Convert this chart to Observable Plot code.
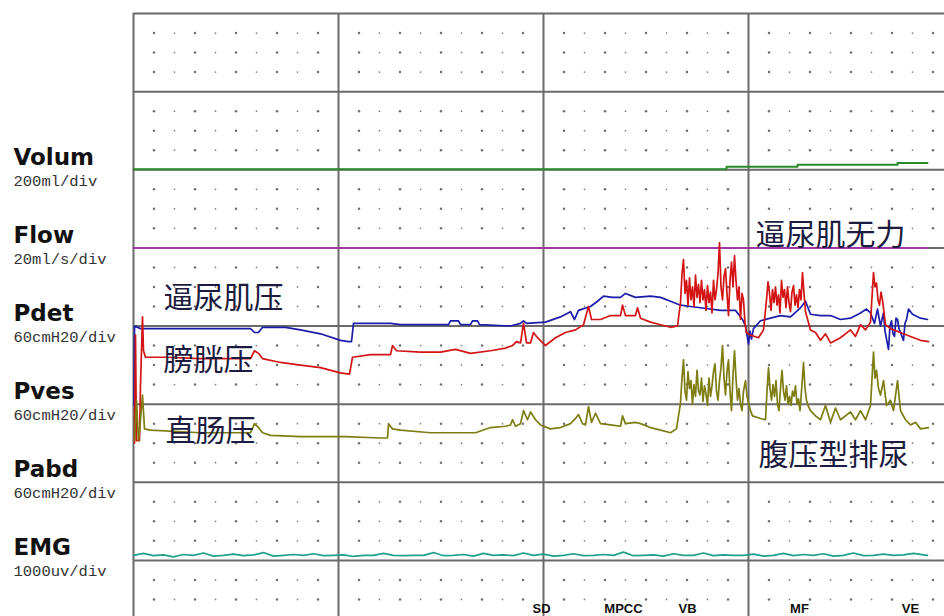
<!DOCTYPE html>
<html>
<head>
<meta charset="utf-8">
<script src="https://cdn.jsdelivr.net/npm/d3@7"></script>
<script src="https://cdn.jsdelivr.net/npm/@observablehq/plot@0.6"></script>
<style>
  html, body { margin: 0; padding: 0; background: #fff; }
  #chart { width: 944px; height: 616px; overflow: hidden; }
</style>
</head>
<body>
<div id="chart"></div>
<script>
// ---- channel definitions (labels & scale per division) ----
const channelNames  = ["Volum", "Flow", "Pdet", "Pves", "Pabd", "EMG"];
const channelScales = ["200ml/div", "20ml/s/div", "60cmH20/div", "60cmH20/div", "60cmH20/div", "1000uv/div"];
const unitsPerDiv   = [200, 20, 60, 60, 60, 1000];

// ---- traces: [time (s), value in channel units] ----
const volume = [[0,1],[118.6,8],[132.8,13],[152.8,17],[158.8,17]];
const flow = [[0,0],[158.8,0]];
const pdet = [
  [0.1,-61],[0.2,0],[1.4,-2],[23.4,-2],[24.2,-5],[25,-5],[25.8,-1],[30.4,-1],[33.4,-3],[37.4,-6],
  [41.4,-11],[43,-12],[43.6,-12],[44,2],[51.4,2],[53.4,1],[63,1],[63.4,4],[65,4],[65.4,1],
  [67.4,1],[67.8,4],[68.8,4],[69.2,1],[75.4,0],[77.4,2],[78,4],[78.6,2],[82.4,3],[85.4,7],
  [87.4,11],[88.2,5],[89,12],[91.4,15],[92.8,19],[94,23],[95.8,22],[97.4,22],[98.4,25],[100.4,22],
  [103.4,23],[105.4,22],[107.4,19],[109.4,16],[111.4,15],[113.4,14],[117.4,12],[120.4,12],[121.8,5],[122.4,0],
  [123,-14],[123.3,-4],[123.6,-10],[124,-2],[125.4,4],[127.4,6],[129.4,8],[131.4,7],[133.4,14],[134.4,19],[135.4,9],[137.4,8],
  [139.4,8],[141.4,5],[143.4,6],[145.4,10],[146.6,13],[147.4,10],[148.2,2],[148.8,13],[149.4,0],[150,10],
  [150.3,-4],[150.6,-10],[151,-18],[151.3,0],[151.6,4],[151.9,-6],[152.2,-8],[152.5,6],[152.8,5],[153.1,-2],[153.4,-5],[154,-11],[154.3,2],[154.6,5],[155,13],[155.8,9],
  [157.4,6],[158.8,5]
];
const pves = [
  [0.2,-30],[0.4,53],[0.6,-28],[1.2,-28],[1.4,15],[1.8,67],[2,41],[2.4,36],[6.4,36],[13.4,35],
  [23.4,35],[24.2,41],[25,39],[25.8,35],[29.4,32],[33.4,30],[37.4,28],[41.4,24],[43.2,23],[43.8,36],
  [47.4,38],[51.4,38],[51.8,45],[52.6,41],[57.4,40],[61.4,40],[64.4,42],[67.4,39],[71.4,41],[74.4,43],
  [75.8,45],[76.6,48],[77.4,47],[78,62],[78.6,47],[79.4,47],[80,55],[80.8,51],[82.4,45],[84.4,51],
  [86.4,55],[88.4,57],[90,61],[91,75],[91.6,65],[93.4,65],[95.4,68],[97.4,68],[97.8,76],[98.4,68],
  [100.4,68],[100.8,74],[101.4,66],[103.4,63],[105.4,61],[107.4,59],[108.8,60],
  [109.4,78],[109.7,100],[110,111],[110.3,85],[110.6,95],[110.9,76],[111.2,97],[111.5,80],[111.8,90],[112.1,75],
  [112.4,99],[112.7,82],[113,92],[113.3,78],[113.6,95],[113.9,80],[114.2,88],[114.5,72],[114.8,91],[115.1,78],
  [115.4,86],[115.7,70],[116,95],[116.3,80],[116.6,88],[116.9,100],[117.2,124],[117.5,90],[117.8,80],[118.1,98],
  [118.4,104],[118.7,85],[119,68],[119.3,95],[119.6,109],[119.9,90],[120.2,114],[120.5,95],[120.8,80],[121.1,90],
  [121.4,65],[121.7,85],[122,80],[122.3,62],[122.6,55],[123.4,53],[125,51],[126,57],
  [126.6,80],[126.9,94],[127.2,85],[127.5,72],[127.8,88],[128.1,78],[128.4,90],[128.7,76],[129,84],[129.3,70],
  [129.6,95],[129.9,82],[130.2,88],[130.5,74],[130.8,90],[131.1,78],[131.4,71],[131.7,86],[132,91],[132.3,76],
  [132.6,84],[132.9,74],[133.2,88],[133.5,80],[133.8,101],[134.1,85],[134.4,71],[135.4,57],[136.4,55],
  [137.4,49],[138.4,54],[139.4,47],[141.4,51],[143.4,57],[144.4,52],[145.4,61],[146.4,57],[147.4,63],[148,101],
  [148.3,90],[148.6,93],[148.9,80],[149.2,76],[149.5,86],[149.8,80],[150.4,61],[151.4,58],[153.4,55],[155.4,52],[157.4,49],[159,48]
];
const pabd = [
  [0.2,32],[0.6,63],[1,32],[1.4,48],[1.8,67],[2.2,41],[3.4,40],[13.4,38],[23.4,38],[24.2,45],
  [25,42],[25.8,38],[27.4,36],[33.4,35],[42.4,35],[49.4,34],[50.8,34],[51,45],[51.8,41],[53.4,40],
  [59.4,38],[66.4,38],[68.4,38],[71.4,42],[74.4,43],[75.4,44],[75.8,48],[76.4,43],[77.4,45],[78,55],
  [78.8,48],[79.4,54],[80.4,48],[81.4,44],[83.4,41],[85.4,42],[87.4,45],[88.4,49],[89,52],[89.8,45],
  [90.4,44],[91,58],[91.6,46],[92.4,53],[93.4,45],[95.4,44],[97.4,43],[97.8,51],[98.4,45],[100.4,46],
  [101.4,45],[103.4,42],[105.4,40],[107.4,38],[108.6,41],
  [109.4,61],[109.7,80],[110,94],[110.3,70],[110.6,63],[110.9,85],[111.2,72],[111.5,78],[111.8,60],[112.1,75],
  [112.4,66],[112.7,86],[113,70],[113.3,67],[113.6,80],[113.9,62],[114.2,74],[114.5,68],[114.8,59],[115.1,80],
  [115.4,66],[115.7,74],[116,85],[116.3,91],[116.6,70],[116.9,63],[117.2,78],[117.5,88],[117.8,105],[118.1,80],
  [118.4,67],[118.7,85],[119,94],[119.3,70],[119.6,55],[119.9,82],[120.2,101],[120.5,80],[120.8,63],[121.1,72],
  [121.4,60],[121.7,55],[122,70],[122.4,78],[122.7,66],[123,61],[123.4,55],[123.8,51],[125.4,49],
  [126.4,48],[126.7,70],[127,88],[127.3,72],[127.6,63],[127.9,75],[128.2,66],[128.5,78],[128.8,60],[129.1,55],
  [129.4,72],[129.7,86],[130,70],[130.3,63],[130.6,74],[130.9,60],[131.2,66],[131.5,59],[131.8,70],[132.1,66],
  [132.4,74],[132.7,60],[133,64],[133.3,55],[133.6,70],[134,92],[134.3,72],[134.6,63],[135,58],[135.4,55],
  [136.4,51],[137.4,48],[138.4,59],[139.4,46],[140.4,57],[141.4,48],[143.4,54],[144.4,48],
  [145.4,55],[146.4,48],[147.4,59],[148,100],[148.3,80],[148.6,86],[149,72],[149.4,67],[150,78],[150.6,59],[151.4,63],[152,55],
  [152.8,78],[153.4,55],[154.4,48],[155.4,44],[156.4,46],[157.4,41],[159,42]
];
const emg = [
  [0,64],[2,90],[4,60],[6,70],[8,45],[10,75],[12,64],[14,95],[16,55],[18,64],
  [20,80],[22,60],[24,70],[26,100],[28,55],[30,64],[32,75],[34,64],[36,85],[38,60],
  [40,64],[42,70],[44,50],[46,64],[48,64],[50,90],[52,64],[54,60],[56,64],[58,64],
  [60,100],[62,60],[64,64],[66,75],[68,55],[70,90],[72,64],[74,70],[76,60],[78,95],
  [80,64],[82,80],[84,55],[86,64],[88,85],[90,60],[92,64],[94,75],[96,64],[98,105],
  [100,60],[102,64],[104,70],[106,55],[108,85],[110,64],[112,64],[114,95],[116,60],[118,70],
  [120,64],[122,64],[124,80],[126,55],[128,64],[130,90],[132,60],[134,75],[136,64],[138,85],
  [140,55],[142,64],[144,95],[146,60],[148,64],[150,80],[152,64],[154,70],[156,90],[158.8,64]
];

// ---- event markers & annotations ----
const eventLabels = ["SD", "MPCC", "VB", "MF", "VE"];
const eventTimes  = [81.6, 98, 110.8, 133.2, 155.4];
const noteTexts = ["逼尿肌压", "膀胱压", "直肠压", "逼尿肌无力", "腹压型排尿"];
const noteTimes = [6, 6, 6.4, 124.4, 125];
const noteDivs  = [3.65, 4.44, 5.35, 2.84, 5.66];

// ---- layout (grid divisions) ----
const secPerDiv = 41;               // one major time division
const baseDiv = [2, 3, 4, 5, 6, 7]; // baseline grid line for each channel
const channelColors = ["#2a8a2a", "#a035a8", "#1c1caa", "#d41414", "#7d7d12", "#1f9f8c"];
const traces = [volume, flow, pdet, pves, pabd, emg];

const xMax = 162.2, yMax = 7.7184;
const dotsBig = [], dotsSmall = [];
for (let i = 1; i * secPerDiv / 10 <= xMax; i++) {
  if (i % 10 === 0) continue;
  for (let j = 1; j * 0.25 <= yMax; j++) {
    if (j % 4 === 0) continue;
    (i % 2 ? dotsBig : dotsSmall).push({t: i * secPerDiv / 10, d: j * 0.25});
  }
}

const lineMarks = traces.map((tr, k) => Plot.line(tr, {
  x: d => d[0],
  y: d => baseDiv[k] - d[1] / unitsPerDiv[k],
  stroke: channelColors[k],
  strokeWidth: k < 2 ? 2 : 1.7,
  strokeLinejoin: "round",
  curve: k === 0 ? "step-after" : "linear"
}));

const chans = channelNames.map((n, k) => ({name: n, scale: channelScales[k], d: baseDiv[k]}));
const events = eventLabels.map((l, k) => ({label: l, t: eventTimes[k]}));
const notes = noteTexts.map((s, k) => ({text: s, t: noteTimes[k], d: noteDivs[k]}));

const chart = Plot.plot({
  width: 944, height: 616,
  marginLeft: 133, marginRight: 0, marginTop: 13, marginBottom: 0,
  x: {domain: [0, xMax], range: [133, 944], axis: null},
  y: {domain: [0, yMax], range: [13, 616], axis: null},
  style: {background: "#fff", overflow: "hidden"},
  marks: [
    Plot.dot(dotsSmall, {x: "t", y: "d", r: 0.85, fill: "#808080", stroke: null}),
    Plot.dot(dotsBig, {x: "t", y: "d", r: 1.25, fill: "#707070", stroke: null}),
    Plot.ruleY(d3.range(0, 8), {y: d => d, stroke: "#6a6a6a", strokeWidth: 2}),
    Plot.ruleX(d3.range(0, 4), {x: d => d * secPerDiv, stroke: "#6a6a6a", strokeWidth: 2}),
    ...lineMarks,
    Plot.text(chans, {frameAnchor: "left", dx: -120, y: "d", dy: -5, text: "name", textAnchor: "start",
      lineAnchor: "bottom", fontSize: 23, fontWeight: "bold", fontFamily: "DejaVu Sans", fill: "#111"}),
    Plot.text(chans, {frameAnchor: "left", dx: -120, y: "d", dy: 16, text: "scale", textAnchor: "start",
      lineAnchor: "bottom", fontSize: 15.5, fontFamily: "Liberation Mono", fill: "#333"}),
    Plot.text(notes, {x: "t", y: "d", text: "text", textAnchor: "start", lineAnchor: "middle",
      fontSize: 30, fontFamily: "Noto Sans CJK SC", fill: "#1c1c40"}),
    Plot.text(events, {x: "t", y: yMax, dy: -4, text: "label", textAnchor: "middle", lineAnchor: "bottom",
      fontSize: 13, fontWeight: "bold", fontFamily: "Liberation Sans", fill: "#111"})
  ]
});
document.getElementById("chart").append(chart);
</script>
</body>
</html>
